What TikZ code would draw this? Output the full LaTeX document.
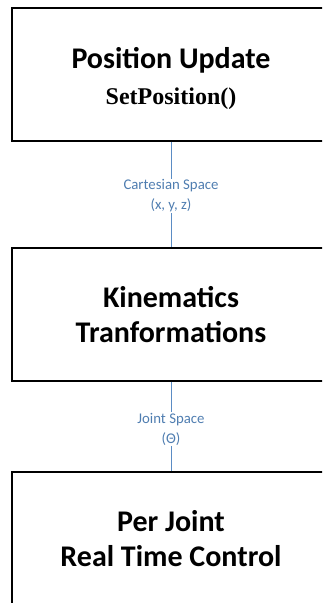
\documentclass[tikz,border=0pt]{standalone}
\usepackage{fontspec}
\setmainfont{Carlito}
\newfontfamily\headserif{Liberation Serif}
\definecolor{linkblue}{HTML}{5B8CC4}
\definecolor{labelblue}{HTML}{4F7DB0}
\begin{document}
\begin{tikzpicture}[x=1pt,y=-1pt,
  stage/.style={draw=black, line width=2.8pt, minimum width=318pt, minimum height=133pt,
    align=center, inner sep=0pt, font=\bfseries\fontsize{30}{35}\selectfont},
  flowlabel/.style={text=labelblue, align=center, inner sep=1pt,
    font=\fontsize{14.8}{20}\selectfont},
  link/.style={draw=linkblue, line width=0.8pt}]
  \useasboundingbox (0,0) rectangle (322,603);
  \clip (0,0) rectangle (322,603);

  % processing stages
  \node[stage] (update) at (171,74.5)
    {\rule{0pt}{30pt}Position Update\\[1pt]{\headserif\bfseries\fontsize{24}{28}\selectfont SetPosition()}};
  \node[stage] (kin) at (171,314.5) {Kinematics\\Tranformations};
  \node[stage] (ctrl) at (171,538.5) {Per Joint\\Real Time Control};

  % data passed between stages
  \node[flowlabel] (cart) at (171,196) {Cartesian Space\\(x, y, z)};
  \node[flowlabel] (joint) at (171,429) {Joint Space\\(Θ)};

  \draw[link] (update.south) -- (cart.north);
  \draw[link] (cart.south) -- (kin.north);
  \draw[link] (kin.south) -- (joint.north);
  \draw[link] (joint.south) -- (ctrl.north);
\end{tikzpicture}
\end{document}
